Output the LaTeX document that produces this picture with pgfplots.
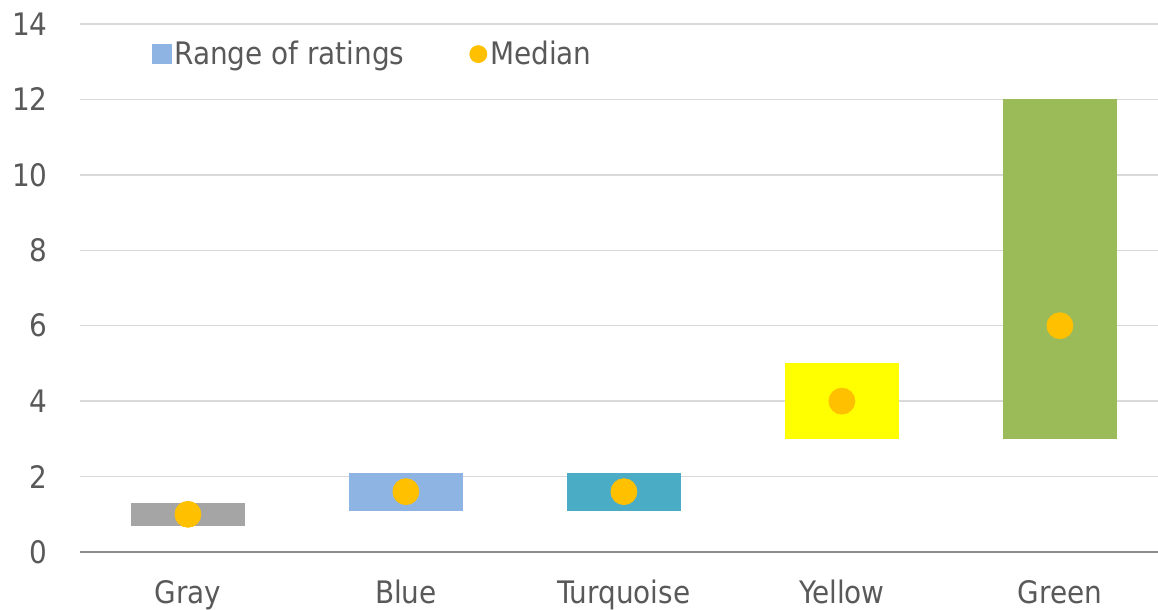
\documentclass[border=0pt]{standalone}
\usepackage{pgfplots}
\pgfplotsset{compat=1.18}
\usepackage{pgfplotstable}
\usepackage{fontspec}
\setmainfont{DejaVu Sans Condensed}

\definecolor{textC}{HTML}{595959}
\definecolor{gridC}{HTML}{D9D9D9}
\definecolor{axC}{HTML}{8C8C8C}
\definecolor{grayC}{HTML}{A5A5A5}
\definecolor{blueC}{HTML}{8EB4E3}
\definecolor{turqC}{HTML}{4BACC6}
\definecolor{yellowC}{HTML}{FFFF00}
\definecolor{greenC}{HTML}{9BBB59}
\definecolor{medC}{HTML}{FFC000}

% lo = bottom of range, one column per colour for the height of the range
\pgfplotstableread{
x  lo   gray blue turq yellow green med
0  0.7  0.6  0    0    0      0     1.0
1  1.1  0    1.0  0    0      0     1.6
2  1.1  0    0    1.0  0      0     1.6
3  3.0  0    0    0    2.0    0     4.0
4  3.0  0    0    0    0      9.0   6.0
}\ratings

\begin{document}
\begin{tikzpicture}[font=\fontsize{15.5}{18}\selectfont]
\begin{axis}[
    name=ax,
    width=539pt, height=264pt, scale only axis,
    ybar stacked, bar width=57pt,
    xmin=-0.495, xmax=4.45,
    ymin=0, ymax=14,
    xtick={0,1,2,3,4},
    xticklabels={Gray,Blue,Turquoise,Yellow,Green},
    ytick={0,2,4,6,8,10,12,14},
    /pgf/number format/assume math mode=true,
    ymajorgrids=true,
    grid style={draw=gridC, line width=0.75pt},
    axis x line*=bottom, axis y line*=left,
    x axis line style={draw=axC, line width=0.9pt, -},
    y axis line style={draw=none},
    major tick length=0pt,
    tick label style={text=textC},
    yticklabel style={anchor=east, inner sep=0pt, xshift=-16pt},
    xticklabel style={anchor=north, inner sep=0pt, yshift=-14pt},
    legend style={at={(0.066,0.943)}, anchor=west, draw=none, fill=none,
        inner sep=0pt, text=textC, legend columns=2,
        nodes={inner sep=1.5pt},
        /tikz/every even column/.append style={column sep=31pt}},
    clip=false,
]
\addlegendimage{legend image code/.code={\fill[blueC] (0pt,-4.75pt) rectangle (9.5pt,4.75pt);}}
\addlegendentry{Range of ratings}

\addplot[forget plot, draw=none, fill=none] table[x=x, y=lo] {\ratings};
\addplot[forget plot, draw=none, fill=grayC] table[x=x, y=gray] {\ratings};
\addplot[forget plot, draw=none, fill=blueC] table[x=x, y=blue] {\ratings};
\addplot[forget plot, draw=none, fill=turqC] table[x=x, y=turq] {\ratings};
\addplot[forget plot, draw=none, fill=yellowC] table[x=x, y=yellow] {\ratings};
\addplot[forget plot, draw=none, fill=greenC] table[x=x, y=green] {\ratings};

\addplot[stack plots=false, only marks, color=medC, mark=*, mark size=6.5pt,
    mark options={draw=medC, fill=medC},
    legend image code/.code={\fill[medC] (4.25pt,0pt) circle (4.25pt);}]
    table[x=x, y=med] {\ratings};
\addlegendentry{Median}
\end{axis}
\pgfresetboundingbox
\path ([xshift=-40pt, yshift=-29pt]ax.south west) rectangle ([yshift=12pt]ax.north east);
\end{tikzpicture}
\end{document}
